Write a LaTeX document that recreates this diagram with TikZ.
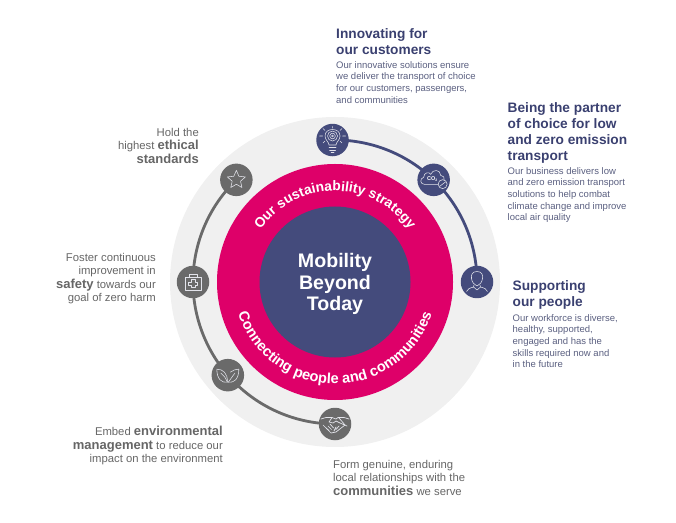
\documentclass[tikz,border=0pt]{standalone}
\usepackage{fontspec}
\setmainfont{Liberation Sans}
\usetikzlibrary{decorations.text,backgrounds,positioning}
\definecolor{navy}{HTML}{444B7C}
\definecolor{headnavy}{HTML}{3A4070}
\definecolor{bodynavy}{HTML}{5A5F80}
\definecolor{pinkring}{HTML}{DE0069}
\definecolor{ringgrey}{HTML}{F0F0F0}
\definecolor{icongrey}{HTML}{6A6A6A}
\definecolor{textgrey}{HTML}{666666}
\tikzset{
  x=1pt,y=1pt,
  iconnavy/.style={circle,fill=navy,inner sep=0pt,minimum size=32.5pt},
  icongray/.style={circle,fill=icongrey,inner sep=0pt,minimum size=32.5pt},
  glyph/.style={draw=white!85!navy,line width=0.55pt,line join=round,line cap=round},
  head/.style={anchor=north west,align=left,inner sep=0pt,text=headnavy,font=\fontsize{13.7}{16.2}\selectfont\bfseries},
  body/.style={anchor=north west,align=left,inner sep=0pt,text=bodynavy,font=\fontsize{9.5}{11.7}\selectfont},
  remark/.style={inner sep=0pt,text=textgrey,font=\fontsize{11.3}{13.4}\selectfont},
  arcnavy/.style={draw=navy,line width=2.8pt},
  arcgrey/.style={draw=icongrey,line width=2.8pt},
  curved/.style={decorate,decoration={text along path,text align=center,text color=white,text={#1}}},
}
\newcommand{\hb}[1]{{\fontsize{13}{13.4}\selectfont\bfseries #1}}
\begin{document}
\begin{tikzpicture}
\useasboundingbox (0,0) rectangle (676,522);
\coordinate (c) at (335,240);
% icon discs
\node[iconnavy] (i1) at ([shift={(91:142)}]c) {};
\node[iconnavy] (i2) at ([shift={(46:142)}]c) {};
\node[iconnavy] (i3) at ([shift={(0:142)}]c) {};
\node[icongray] (g1) at ([shift={(134:142)}]c) {};
\node[icongray] (g2) at ([shift={(180:142)}]c) {};
\node[icongray] (g3) at ([shift={(221:142)}]c) {};
\node[icongray] (g4) at ([shift={(270:142)}]c) {};
% discs and connecting arcs
\begin{scope}[on background layer]
\node[circle,fill=ringgrey,inner sep=0pt,minimum size=330pt] (disc) at (c) {};
\node[circle,fill=pinkring,inner sep=0pt,minimum size=236pt] (ring) at (c) {};
\node[circle,fill=navy,inner sep=0pt,minimum size=151pt] (core) at (c) {};
\draw[arcnavy] (i1.center) arc[start angle=91,end angle=46,radius=142];
\draw[arcnavy] (i2.center) arc[start angle=46,end angle=0,radius=142];
\draw[arcgrey] (g1.center) arc[start angle=134,end angle=180,radius=142];
\draw[arcgrey] (g2.center) arc[start angle=180,end angle=221,radius=142];
\draw[arcgrey] (g3.center) arc[start angle=221,end angle=270,radius=142];
\end{scope}
\node[align=center,text=white,inner sep=0pt,font=\fontsize{19.6}{21.6}\selectfont\bfseries] (coretext) at (335,238) {Mobility\\Beyond\\Today};
% curved labels
\path[curved={|\fontsize{13.8}{14}\selectfont\bfseries|Our sustainability strategy}]
  (c) ++(160:91) arc[start angle=160,end angle=20,radius=91];
\path[curved={|\fontsize{14.6}{14}\selectfont\bfseries|Connecting people and communities}]
  (c) ++(185:102) arc[start angle=185,end angle=355,radius=102];
% bulb
\begin{scope}[shift={(i1.center)},glyph]
\draw (-3.5,-5) .. controls (-3.5,-2) and (-7.5,0) .. (-7.5,4) .. controls (-7.5,8.5) and (-4,10.5) .. (0,10.5)
  .. controls (4,10.5) and (7.5,8.5) .. (7.5,4) .. controls (7.5,0) and (3.5,-2) .. (3.5,-5) -- cycle;
\draw (-3.5,-7.5)--(3.5,-7.5) (-3,-10)--(3,-10) (-1.5,-12)--(1.5,-12);
\draw (0,4) circle (5) (0,4) circle (2.8) (0,4) circle (1);
\draw (-13,4)--(-10,4) (13,4)--(10,4) (0,13.5)--(0,12) (-9.5,11.5)--(-7.5,9.5) (9.5,11.5)--(7.5,9.5) (-9.5,-3)--(-7.5,-1) (9.5,-3)--(7.5,-1);
\end{scope}
% cloud CO2
\begin{scope}[shift={(i2.center)},glyph]
\draw (4,-4.5) -- (-9,-4.5) .. controls (-14,-4.5) and (-14,1.5) .. (-10,2.5) .. controls (-10,7.5) and (-4,8.5) .. (-3,5.5)
  .. controls (-1,11) and (7,10.5) .. (7,4.5) .. controls (10,4.5) and (11,2) .. (10.5,0);
\node[inner sep=0pt,text=white,font=\fontsize{5.5}{6}\selectfont\bfseries] (co) at (-1.5,1) {CO\raisebox{-1pt}{\fontsize{3.5}{4}\selectfont 2}};
\draw (9,-4.3) circle (4.5);
\draw (6,-6.5) -- (12,-2);
\end{scope}
% person
\begin{scope}[shift={(i3.center)},glyph]
\draw (0,10.5) .. controls (-5,10.5) and (-6,7) .. (-5.5,3.5) .. controls (-5,0) and (-3,-3) .. (0,-4)
  .. controls (3,-3) and (5,0) .. (5.5,3.5) .. controls (6,7) and (5,10.5) .. (0,10.5);
\draw (-3,-3) -- (-3.5,-5) .. controls (-7,-6) and (-10,-7) .. (-10.5,-9.5);
\draw (3,-3) -- (3.5,-5) .. controls (7,-6) and (10,-7) .. (10.5,-9.5);
\draw (-3.5,-5) -- (0,-8) -- (3.5,-5);
\end{scope}
% star
\begin{scope}[shift={(g1.center)},glyph]
\draw (90:9.5)--(126:4.4)--(162:9.5)--(198:4.4)--(234:9.5)--(270:4.4)--(306:9.5)--(342:4.4)--(18:9.5)--(54:4.4)--cycle;
\end{scope}
% first-aid case
\begin{scope}[shift={(g2.center)},glyph]
\draw (-8,-8) rectangle (8,5);
\draw (-4,5) -- (-4,8) -- (4,8) -- (4,5);
\draw (-2,-5.5) -- (2,-5.5) -- (2,-3.5) -- (4.5,-3.5) -- (4.5,0) -- (2,0) -- (2,2.5) -- (-2,2.5) -- (-2,0) -- (-4.5,0) -- (-4.5,-3.5) -- (-2,-3.5) -- cycle;
\end{scope}
% leaves
\begin{scope}[shift={(g3.center)},glyph]
\draw (-0.5,-7) .. controls (-6,-8) and (-11,-4) .. (-11,6) .. controls (-5,6) and (0,2) .. (-0.5,-7);
\draw (-0.5,-7) .. controls (-2,-3) and (-4,0) .. (-7,2);
\draw (0.5,-7) .. controls (6,-8) and (11,-4) .. (11,6) .. controls (8,6) and (5,5) .. (2.5,3);
\draw (0.5,-7) .. controls (2.5,-4) and (5,-1) .. (7,2);
\end{scope}
% handshake
\begin{scope}[shift={(g4.center)},glyph,line width=0.7pt]
\draw (-14,5) -- (-9,6.5) -- (-3,6.5) -- (1,5) -- (3,6.5) -- (9,6.5) -- (14,5);
\draw (-12,-1) -- (-4,-9) -- (1,-8) -- (10,-1) -- (4,6);
\draw (-3,6.5) -- (-6,2) -- (-2,1) -- (1,3) -- (5,1) -- (12,-2);
\draw (-9,-4) -- (-6,-6.5) (-7,-2) -- (-3.5,-5.5) (-5,0) -- (-1.5,-4) (1,-3) -- (-1,-7) (4,-2) -- (1,-5.5);
\end{scope}
% texts
\node[head] (t1) at (336,494) {Innovating for\\our customers};
\node[body] (b1) at (336,461) {Our innovative solutions ensure\\we deliver the transport of choice\\for our customers, passengers,\\and communities};
\node[head] (t2) at (507.5,420) {Being the partner\\of choice for low\\and zero emission\\transport};
\node[body] (b2) at (507.5,355) {Our business delivers low\\and zero emission transport\\solutions to help combat\\climate change and improve\\local air quality};
\node[head] (t3) at (512.5,242) {Supporting\\our people};
\node[body] (b3) at (512.5,208) {Our workforce is diverse,\\healthy, supported,\\engaged and has the\\skills required now and\\in the future};
\node[remark,anchor=north east,align=right] (r1) at (199,394) {Hold the\\highest \hb{ethical}\\\hb{standards}};
\node[remark,anchor=north east,align=right] (r2) at (156,269) {Foster continuous\\improvement in\\\hb{safety} towards our\\goal of zero harm};
\node[remark,anchor=north east,align=right] (r3) at (223,96) {Embed \hb{environmental}\\\hb{management} to reduce our\\impact on the environment};
\node[remark,anchor=north west,align=left] (r4) at (333,62) {Form genuine, enduring\\local relationships with the\\\hb{communities} we serve};
\end{tikzpicture}
\end{document}
